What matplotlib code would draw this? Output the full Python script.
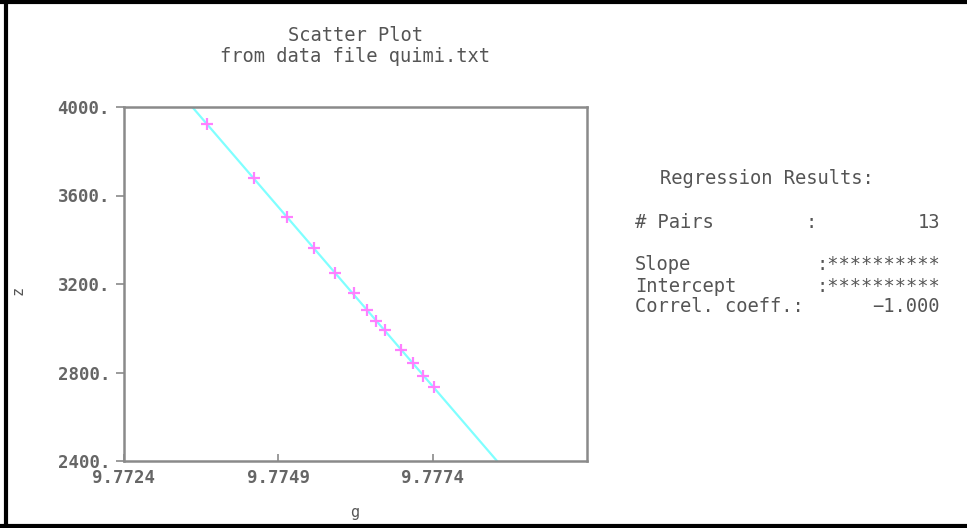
import numpy as np
import matplotlib.pyplot as plt
from matplotlib.lines import Line2D

# data (gravity g vs height z)
g_vals = [9.77374, 9.77450, 9.77504, 9.77547, 9.77581, 9.77612, 9.77633,
          9.77649, 9.77662, 9.77688, 9.77708, 9.77725, 9.77742]
z_vals = [3923, 3679, 3503, 3363, 3250, 3159, 3082, 3033, 2992, 2902,
          2843, 2784, 2734]
x_ticks = [9.7724, 9.7749, 9.7774]
y_ticks = [2400, 2800, 3200, 3600, 4000]
x_range = [9.7724, 9.7799]
y_range = [2400, 4000]

MONO = "DejaVu Sans Mono"
TXT = "#555555"

fig = plt.figure(figsize=(9.67, 5.28), dpi=100)
ax = fig.add_axes([124 / 967, 1 - 461 / 528, (587 - 124) / 967, (461 - 107) / 528])

# regression line z = a*g + b, drawn across the full z range
a, b = np.polyfit(g_vals, z_vals, 1)
z_line = np.array(y_range, dtype=float)
ax.plot((z_line - b) / a, z_line, color="#80ffff", lw=1.6, zorder=2)
ax.plot(g_vals, z_vals, "+", color="#ff80ff", ms=8, mew=1.6, zorder=3)

ax.set_xlim(x_range)
ax.set_ylim(y_range)
ax.set_xticks(x_ticks)
ax.set_xticklabels([f"{v:.4f}" for v in x_ticks])
ax.set_yticks(y_ticks)
ax.set_yticklabels([f"{v}." for v in y_ticks])

for sp in ax.spines.values():
    sp.set_color("#8a8a8a")
    sp.set_linewidth(1.8)
ax.tick_params(axis="x", direction="in", length=5, width=1.2, color="#8a8a8a", pad=6)
ax.tick_params(axis="y", direction="out", length=6, width=1.2, color="#8a8a8a", pad=4)
for lab in ax.get_xticklabels() + ax.get_yticklabels():
    lab.set_fontfamily(MONO)
    lab.set_fontsize(12.5)
    lab.set_fontweight("bold")
    lab.set_color("#666666")

# axis labels
fig.text(355 / 967, 1 - 512 / 528, "g", family=MONO, fontsize=11, color=TXT,
         ha="center", va="center")
fig.text(18 / 967, 1 - 290 / 528, "z", family=MONO, fontsize=11, color=TXT,
         ha="center", va="center", rotation=90)

# title
fig.text(355 / 967, 1 - 36 / 528, "Scatter Plot", family=MONO, fontsize=13.5,
         color=TXT, ha="center", va="center")
fig.text(355 / 967, 1 - 56 / 528, "from data file quimi.txt", family=MONO,
         fontsize=13.5, color=TXT, ha="center", va="center")

# regression results panel
def px(x, y, s, ha="left"):
    fig.text(x / 967, 1 - y / 528, s, family=MONO, fontsize=13.5, color=TXT,
             ha=ha, va="center")

px(660, 179, "Regression Results:")
px(635, 223, "# Pairs")
px(806, 223, ":")
px(940, 223, str(len(g_vals)), ha="right")
px(635, 265, "Slope")
px(940, 265, ":**********", ha="right")
px(635, 286, "Intercept")
px(940, 286, ":**********", ha="right")
px(635, 307, "Correl. coeff.:")
r = np.corrcoef(g_vals, z_vals)[0, 1]
px(940, 307, f"{r:.3f}".replace("-", "\u2212"), ha="right")

# window frame
fig.add_artist(Line2D([6 / 967, 6 / 967], [0, 1], color="black", lw=3))
fig.add_artist(Line2D([0, 1], [1 - 1.5 / 528, 1 - 1.5 / 528], color="black", lw=3))
fig.add_artist(Line2D([0, 1], [1 - 525.5 / 528, 1 - 525.5 / 528], color="black", lw=3))

fig.savefig("out.png", dpi=100)
